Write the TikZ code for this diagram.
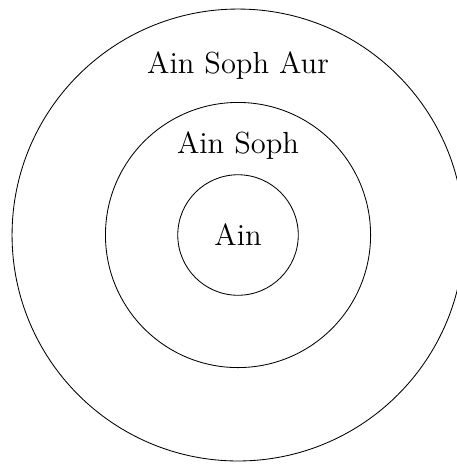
\documentclass[tikz,border=0pt]{standalone}
\usepackage{tikz}
\usetikzlibrary{positioning}

\begin{document}
\begin{tikzpicture}[
        ring/.style={circle, draw=black, inner sep=0pt, font=\Large},
        caption/.style={font=\Large, inner sep=0pt}
    ]
    \useasboundingbox (-3.95,-3.8) rectangle (3.63,3.9);
    \clip (-3.95,-3.8) rectangle (3.63,3.9);

    % Rings
    \node[ring, minimum size=2cm] (ain) at (0,0) {Ain};
    \node[ring, minimum size=4.4cm] (soph) at (0,0) {};
    \node[ring, minimum size=7.5cm] (aur) at (0,0) {};

    % Labels
    \node[caption] (sophtext) at (0,1.48) {Ain Soph};
    \node[caption] (aurtext) at (0,2.81) {Ain Soph Aur};

\end{tikzpicture}
\end{document}
